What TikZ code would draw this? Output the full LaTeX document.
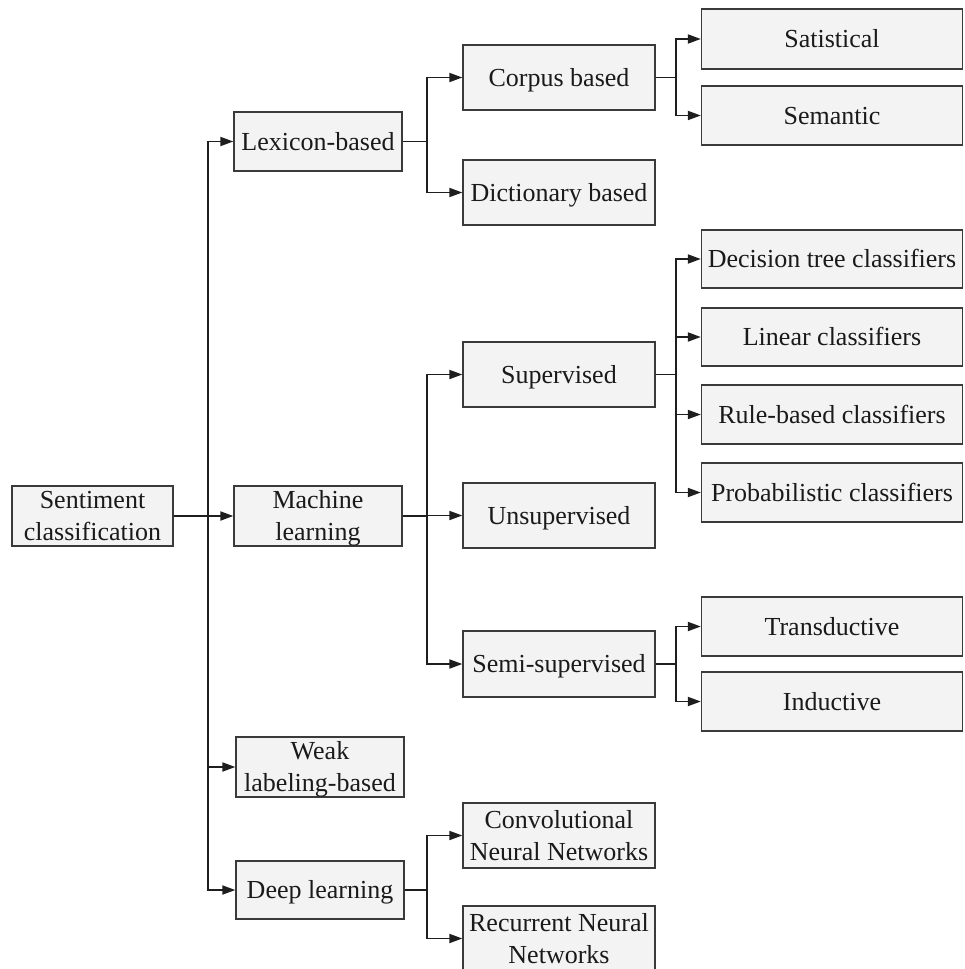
\documentclass[tikz,border=0pt]{standalone}
\usepackage{fontspec}
\setmainfont{Liberation Serif}
\usetikzlibrary{arrows.meta}
\definecolor{boxfill}{HTML}{F3F3F3}
\definecolor{boxline}{HTML}{3A3A3A}
\definecolor{lineclr}{HTML}{1E1E1E}
\definecolor{txtclr}{HTML}{1A1A1A}
\tikzset{
  tbox/.style={draw=boxline, fill=boxfill, line width=1.3pt, inner sep=0pt,
    align=center, text=txtclr,
    font=\fontsize{26}{32}\selectfont},
  one/.style={text height=17.2pt, text depth=0pt},
  two/.style={text height=49.2pt, text depth=0pt},
  wbox/.style={tbox, minimum width=168pt, minimum height=60pt},
  mbox/.style={tbox, minimum width=192pt, minimum height=65pt},
  rbox/.style={tbox, minimum width=261pt, minimum height=59pt, one},
  arr/.style={draw=lineclr, line width=1.8pt,
    -{Triangle[length=13pt,width=9pt]}},
}
\begin{document}
\begin{tikzpicture}[x=1pt,y=-1pt]
\useasboundingbox (0,0) rectangle (964,969);
% root
\node[tbox, two, minimum width=161pt, minimum height=60pt] (sc) at (92.5,516) {Sentiment\\classification};
% level 1
\node[wbox, one, minimum height=59pt] (lex) at (318,141.5) {Lexicon-based};
\node[wbox, two] (ml) at (318,516) {Machine\\learning};
\node[wbox, two] (weak) at (320,767) {Weak\\labeling-based};
\node[wbox, one, minimum height=58pt] (deep) at (320,890) {Deep learning};
% level 2
\node[mbox, one] (corpus) at (559,77.5) {Corpus based};
\node[mbox, one] (dict) at (559,192.5) {Dictionary based};
\node[mbox, one] (sup) at (559,374.5) {Supervised};
\node[mbox, one] (unsup) at (559,515.5) {Unsupervised};
\node[mbox, one, minimum height=66pt] (semi) at (559,664) {Semi-supervised};
\node[mbox, two] (cnn) at (559,835.5) {Convolutional\\Neural Networks};
\node[mbox, two] (rnn) at (559,938.5) {Recurrent Neural\\Networks};
% level 3
\node[rbox, minimum height=60pt] (sat) at (832,39) {Satistical};
\node[rbox] (sem) at (832,115.5) {Semantic};
\node[rbox, minimum height=58pt] (dt) at (832,259) {Decision tree classifiers};
\node[rbox, minimum height=58pt] (lin) at (832,337) {Linear classifiers};
\node[rbox] (rule) at (832,414.5) {Rule-based classifiers};
\node[rbox] (prob) at (832,492.5) {Probabilistic classifiers};
\node[rbox] (trans) at (832,626.5) {Transductive};
\node[rbox] (ind) at (832,701.5) {Inductive};
% branch columns
\coordinate (b0) at (208,0);
\coordinate (b1) at (427,0);
\coordinate (b2) at (676,0);
% connectors
\foreach \c in {lex,ml,weak,deep}
  \draw[arr] (sc.east) -- (sc.east -| b0) |- (\c.west);
\foreach \c in {corpus,dict}
  \draw[arr] (lex.east) -- (lex.east -| b1) |- (\c.west);
\foreach \c in {sup,unsup,semi}
  \draw[arr] (ml.east) -- (ml.east -| b1) |- (\c.west);
\foreach \c in {cnn,rnn}
  \draw[arr] (deep.east) -- (deep.east -| b1) |- (\c.west);
\foreach \c in {sat,sem}
  \draw[arr] (corpus.east) -- (corpus.east -| b2) |- (\c.west);
\foreach \c in {dt,lin,rule,prob}
  \draw[arr] (sup.east) -- (sup.east -| b2) |- (\c.west);
\foreach \c in {trans,ind}
  \draw[arr] (semi.east) -- (semi.east -| b2) |- (\c.west);
\end{tikzpicture}
\end{document}
